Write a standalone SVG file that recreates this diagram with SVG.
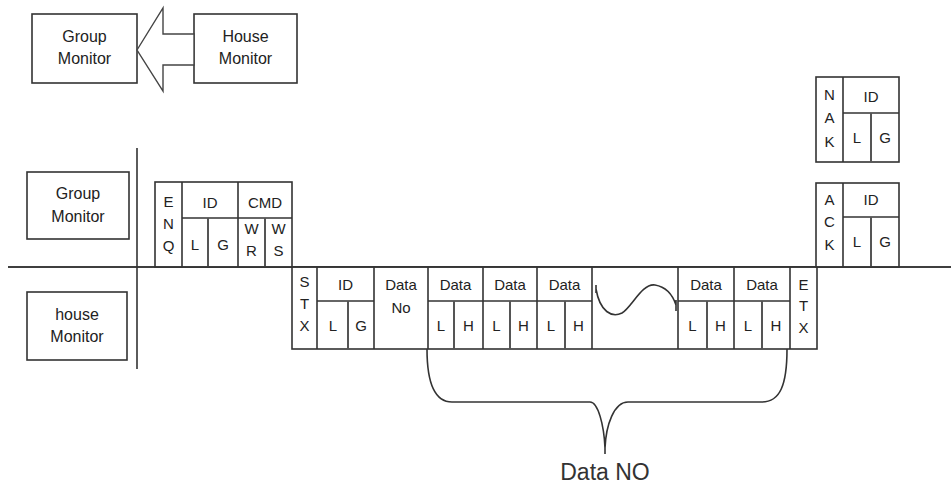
<svg xmlns="http://www.w3.org/2000/svg" width="951" height="485" viewBox="0 0 951 485">
<style>
  .box { fill: #fff; stroke: #333; stroke-width: 1.6; }
  .ln { stroke: #333; stroke-width: 1.6; fill: none; }
  .dv { stroke: #555; stroke-width: 2; fill: none; }
  .lbl { font-family: "Liberation Sans", Arial, sans-serif; font-size: 16px; fill: #222; text-anchor: middle; }
  .c { font-family: "Liberation Sans", Arial, sans-serif; font-size: 15px; fill: #222; text-anchor: middle; }
  .big { font-family: "Liberation Sans", Arial, sans-serif; font-size: 23px; fill: #333; text-anchor: middle; }
</style>
<rect width="951" height="485" fill="#fff"/>

<g id="axes">
  <line class="ln" x1="8" y1="267" x2="951" y2="267"/>
  <line class="ln" x1="137" y1="148" x2="137" y2="369"/>
</g>

<g id="top-group-monitor">
  <rect class="box" x="32" y="14" width="105" height="69"/>
  <text class="lbl" x="84.5" y="42">Group</text>
  <text class="lbl" x="84.5" y="64">Monitor</text>
</g>
<g id="top-house-monitor">
  <rect class="box" x="194" y="14" width="103" height="69"/>
  <text class="lbl" x="245.5" y="42">House</text>
  <text class="lbl" x="245.5" y="64">Monitor</text>
</g>

<g id="connectors">
  <polygon points="137,50 163,8 163,34 194,34 194,65 163,65 163,91" fill="#fff" stroke="#444" stroke-width="1.4"/>
</g>

<g id="group-monitor">
  <rect class="box" x="27" y="172" width="102" height="67"/>
  <text class="lbl" x="78" y="199">Group</text>
  <text class="lbl" x="78" y="222">Monitor</text>
</g>
<g id="house-monitor">
  <rect class="box" x="27" y="292" width="100" height="68"/>
  <text class="lbl" x="77" y="320">house</text>
  <text class="lbl" x="77" y="342">Monitor</text>
</g>

<g id="enq-frame">
  <rect class="box" x="155" y="182" width="137" height="85"/>
  <line class="ln" x1="182" y1="182" x2="182" y2="267"/>
  <line class="ln" x1="238" y1="182" x2="238" y2="267"/>
  <line class="ln" x1="182" y1="218" x2="292" y2="218"/>
  <line class="dv" x1="208" y1="218" x2="208" y2="267"/>
  <line class="dv" x1="265" y1="218" x2="265" y2="267"/>
  <text class="c" x="168.5" y="207">E</text>
  <text class="c" x="168.5" y="229">N</text>
  <text class="c" x="168.5" y="251">Q</text>
  <text class="c" x="210" y="208">ID</text>
  <text class="c" x="265" y="208">CMD</text>
  <text class="c" x="195" y="250">L</text>
  <text class="c" x="223" y="250">G</text>
  <text class="c" x="251.5" y="234">W</text>
  <text class="c" x="251.5" y="256">R</text>
  <text class="c" x="278.5" y="234">W</text>
  <text class="c" x="278.5" y="256">S</text>
</g>

<g id="stx-frame">
  <rect class="box" x="292" y="267" width="525" height="82"/>
  <line class="ln" x1="317" y1="267" x2="317" y2="349"/>
  <line class="ln" x1="374" y1="267" x2="374" y2="349"/>
  <line class="ln" x1="428" y1="267" x2="428" y2="349"/>
  <line class="ln" x1="483" y1="267" x2="483" y2="349"/>
  <line class="ln" x1="537" y1="267" x2="537" y2="349"/>
  <line class="ln" x1="592" y1="267" x2="592" y2="349"/>
  <line class="ln" x1="678" y1="267" x2="678" y2="349"/>
  <line class="ln" x1="734" y1="267" x2="734" y2="349"/>
  <line class="ln" x1="790" y1="267" x2="790" y2="349"/>
  <line class="ln" x1="317" y1="301" x2="374" y2="301"/>
  <line class="ln" x1="428" y1="301" x2="592" y2="301"/>
  <line class="ln" x1="678" y1="301" x2="790" y2="301"/>
  <line class="dv" x1="348" y1="301" x2="348" y2="349"/>
  <line class="dv" x1="454" y1="301" x2="454" y2="349"/>
  <line class="dv" x1="510" y1="301" x2="510" y2="349"/>
  <line class="dv" x1="565" y1="301" x2="565" y2="349"/>
  <line class="dv" x1="707" y1="301" x2="707" y2="349"/>
  <line class="dv" x1="762" y1="301" x2="762" y2="349"/>
  <path class="ln" d="M596,285 L596,293 M596,289 C600,312 612,318 622,313 C632,307 642,283 655,285 C667,287 673,296 676,305 M676,300 L676,311"/>
  <text class="c" x="304.5" y="287">S</text>
  <text class="c" x="304.5" y="309">T</text>
  <text class="c" x="304.5" y="331">X</text>
  <text class="c" x="345.5" y="290">ID</text>
  <text class="c" x="333" y="331">L</text>
  <text class="c" x="361" y="331">G</text>
  <text class="c" x="401" y="290">Data</text>
  <text class="c" x="401" y="313">No</text>
  <text class="c" x="455.5" y="290">Data</text>
  <text class="c" x="510" y="290">Data</text>
  <text class="c" x="564.5" y="290">Data</text>
  <text class="c" x="441" y="331">L</text>
  <text class="c" x="468.5" y="331">H</text>
  <text class="c" x="496.5" y="331">L</text>
  <text class="c" x="523.5" y="331">H</text>
  <text class="c" x="551" y="331">L</text>
  <text class="c" x="578.5" y="331">H</text>
  <text class="c" x="706" y="290">Data</text>
  <text class="c" x="762" y="290">Data</text>
  <text class="c" x="692.5" y="331">L</text>
  <text class="c" x="720.5" y="331">H</text>
  <text class="c" x="748" y="331">L</text>
  <text class="c" x="776" y="331">H</text>
  <text class="c" x="803.5" y="290">E</text>
  <text class="c" x="803.5" y="311">T</text>
  <text class="c" x="803.5" y="333">X</text>
</g>

<g id="nak-frame">
  <rect class="box" x="816" y="77" width="83" height="85"/>
  <line class="ln" x1="843" y1="77" x2="843" y2="162"/>
  <line class="ln" x1="843" y1="113" x2="899" y2="113"/>
  <line class="dv" x1="871" y1="113" x2="871" y2="162"/>
  <text class="c" x="829.5" y="100">N</text>
  <text class="c" x="829.5" y="123">A</text>
  <text class="c" x="829.5" y="147">K</text>
  <text class="c" x="871" y="102">ID</text>
  <text class="c" x="857" y="143">L</text>
  <text class="c" x="885" y="143">G</text>
</g>

<g id="ack-frame">
  <rect class="box" x="816" y="183" width="83" height="84"/>
  <line class="ln" x1="843" y1="183" x2="843" y2="267"/>
  <line class="ln" x1="843" y1="217" x2="899" y2="217"/>
  <line class="dv" x1="871" y1="217" x2="871" y2="267"/>
  <text class="c" x="829.5" y="205">A</text>
  <text class="c" x="829.5" y="227">C</text>
  <text class="c" x="829.5" y="250">K</text>
  <text class="c" x="871" y="205">ID</text>
  <text class="c" x="857" y="247">L</text>
  <text class="c" x="885" y="247">G</text>
</g>

<g id="data-no-brace">
  <path class="ln" d="M427,349 C427,385 435,402 452,402 L590,402 C598,402 604,425 605,448 L605,454 M605,448 C606,425 614,402 628,402 L762,402 C780,402 787,385 787,349"/>
  <text class="big" x="605" y="480">Data NO</text>
</g>

<!-- re-draw main line over frames -->
<line class="ln" x1="8" y1="267" x2="951" y2="267"/>
</svg>
